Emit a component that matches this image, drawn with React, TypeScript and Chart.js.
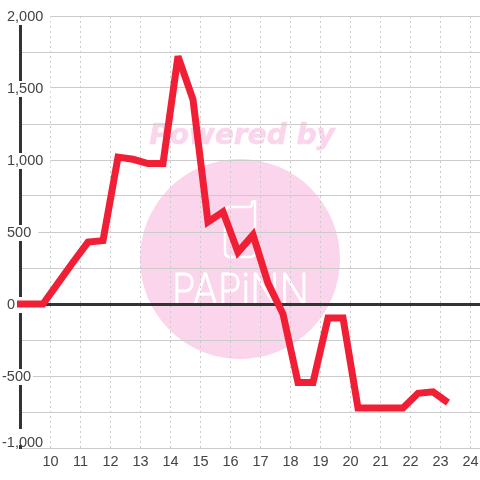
import React, { useEffect, useRef } from "react";
import { Chart, registerables } from "chart.js";

Chart.register(...registerables);

const hours = [8.75, 9.25, 9.75, 10.25, 10.75, 11.25, 11.75, 12.25, 12.75, 13.25, 13.75, 14.25, 14.75, 15.25, 15.75, 16.25, 16.75, 17.25, 17.75, 18.25, 18.75, 19.25, 19.75, 20.25, 20.75, 21.25, 21.75, 22.25, 22.75, 23.25];
const values = [0, 0, 0, 145, 290, 430, 440, 1020, 1005, 975, 975, 1720, 1420, 570, 640, 360, 480, 145, -70, -545, -545, -97, -97, -722, -722, -722, -722, -620, -610, -685];
const xTicks = [10, 11, 12, 13, 14, 15, 16, 17, 18, 19, 20, 21, 22, 23, 24];
const yTicks = [-1000, -750, -500, -250, 0, 250, 500, 750, 1000, 1250, 1500, 1750, 2000];

const INK = "#444444";
const AXIS = "#333333";
const GRID = "#cbcbcb";
const RED = "#f01f35";
const PINK = "#fbd5ec";

const watermark = {
  id: "watermark",
  beforeDraw(chart: any) {
    const c = chart.ctx;
    c.save();
    c.fillStyle = PINK;
    c.beginPath();
    c.arc(240, 259, 100, 0, Math.PI * 2);
    c.fill();
    c.font = "italic bold 28px 'DejaVu Sans'";
    c.textAlign = "center";
    c.textBaseline = "alphabetic";
    c.strokeStyle = PINK;
    c.lineWidth = 0.6;
    c.fillText("Powered by", 242, 144);
    c.strokeText("Powered by", 242, 144);
    c.strokeStyle = "#ffffff";
    c.lineWidth = 2.5;
    c.lineJoin = "round";
    c.beginPath();
    c.moveTo(228, 207);
    c.lineTo(250, 207);
    c.quadraticCurveTo(252, 207, 252, 202);
    c.lineTo(255, 201);
    c.lineTo(255, 252);
    c.quadraticCurveTo(255, 257, 250, 257);
    c.lineTo(230, 257);
    c.quadraticCurveTo(225, 257, 225, 252);
    c.lineTo(225, 212);
    c.quadraticCurveTo(225, 207, 230, 207);
    c.stroke();
    c.fillStyle = "#ffffff";
    c.lineWidth = 1.2;
    c.font = "200 44px Inter";
    c.textAlign = "left";
    c.translate(172, 305);
    c.scale(0.87, 1);
    c.fillText("PAPiNN", 0, 0);
    c.strokeText("PAPiNN", 0, 0);
    c.restore();
  },
  beforeDatasetsDraw(chart: any) {
    chart.ctx.save();
    chart.ctx.miterLimit = 2.5;
  },
  afterDatasetsDraw(chart: any) {
    chart.ctx.restore();
  },
  afterLayout(chart: any) {
    const area = chart.chartArea;
    const xs = chart.scales.x;
    area.left = 20;
    area.right = 480;
    area.width = 460;
    xs.left = 20;
    xs.right = 480;
    xs.width = 460;
    xs.configure();
    const y = chart.scales.y;
    const items = y.getLabelItems();
    items.forEach((item: any) => {
      const text = String(item.label);
      const opts = item.options;
      const x = text.startsWith("-") ? 2 : 7;
      const dy = text === "-1,000" ? -6 : 0;
      opts.translation = [x, opts.translation[1] + dy + 1];
      if (opts.backdrop) {
        opts.backdrop.left = x;
        opts.backdrop.top += dy;
      }
    });
  },
};

export default function App() {
  const ref = useRef<HTMLCanvasElement>(null);
  useEffect(() => {
    const chart = new Chart(ref.current as HTMLCanvasElement, {
      type: "line",
      data: {
        datasets: [
          {
            data: hours.map((h, i) => ({ x: h, y: values[i] })),
            borderColor: RED,
            borderWidth: 7,
            pointRadius: 0,
            borderJoinStyle: "miter",
            borderCapStyle: "butt",
            tension: 0,
            clip: { left: 3, right: 0, top: 0, bottom: 0 },
          },
        ],
      },
      options: {
        responsive: false,
        animation: false,
        layout: { autoPadding: false, padding: { left: 7, top: 16, right: 0, bottom: 0 } },
        plugins: { legend: { display: false }, tooltip: { enabled: false } },
        scales: {
          x: {
            type: "linear",
            min: 8.983,
            max: 24.317,
            afterBuildTicks: (s: any) => {
              s.ticks = xTicks.map((value) => ({ value }));
            },
            afterFit: (s: any) => {
              s.height = 32;
            },
            border: { display: false, dash: [2, 3] },
            grid: { color: GRID, lineWidth: 1, drawTicks: false },
            ticks: {
              color: INK,
              font: { family: "'Liberation Sans'", size: 14.5 },
              padding: 5,
              maxRotation: 0,
              autoSkip: false,
              callback: (v: any) => String(v),
            },
          },
          y: {
            type: "linear",
            min: -1000,
            max: 2000,
            afterBuildTicks: (s: any) => {
              s.ticks = yTicks.map((value) => ({ value }));
            },
            afterFit: (s: any) => {
              s.width = 13;
            },
            border: { display: true, color: AXIS, width: 3 },
            grid: {
              color: (c: any) => (c.tick && c.tick.value === 0 ? AXIS : GRID),
              lineWidth: (c: any) => (c.tick && c.tick.value === 0 ? 3 : 1),
              drawTicks: false,
            },
            ticks: {
              color: INK,
              font: { family: "'Liberation Sans'", size: 14.5, lineHeight: 16 / 14.5 },
              mirror: true,
              autoSkip: false,
              showLabelBackdrop: true,
              backdropColor: "#ffffff",
              backdropPadding: 0,
              callback: (v: any) => (Number(v) % 500 === 0 ? Number(v).toLocaleString("en-US") : ""),
            },
          },
        },
      },
      plugins: [watermark],
    } as any);
    return () => chart.destroy();
  }, []);
  return (
    <canvas
      ref={ref}
      width={480}
      height={480}
      style={{ position: "fixed", left: 0, top: 0, display: "block", background: "#ffffff" }}
    />
  );
}
